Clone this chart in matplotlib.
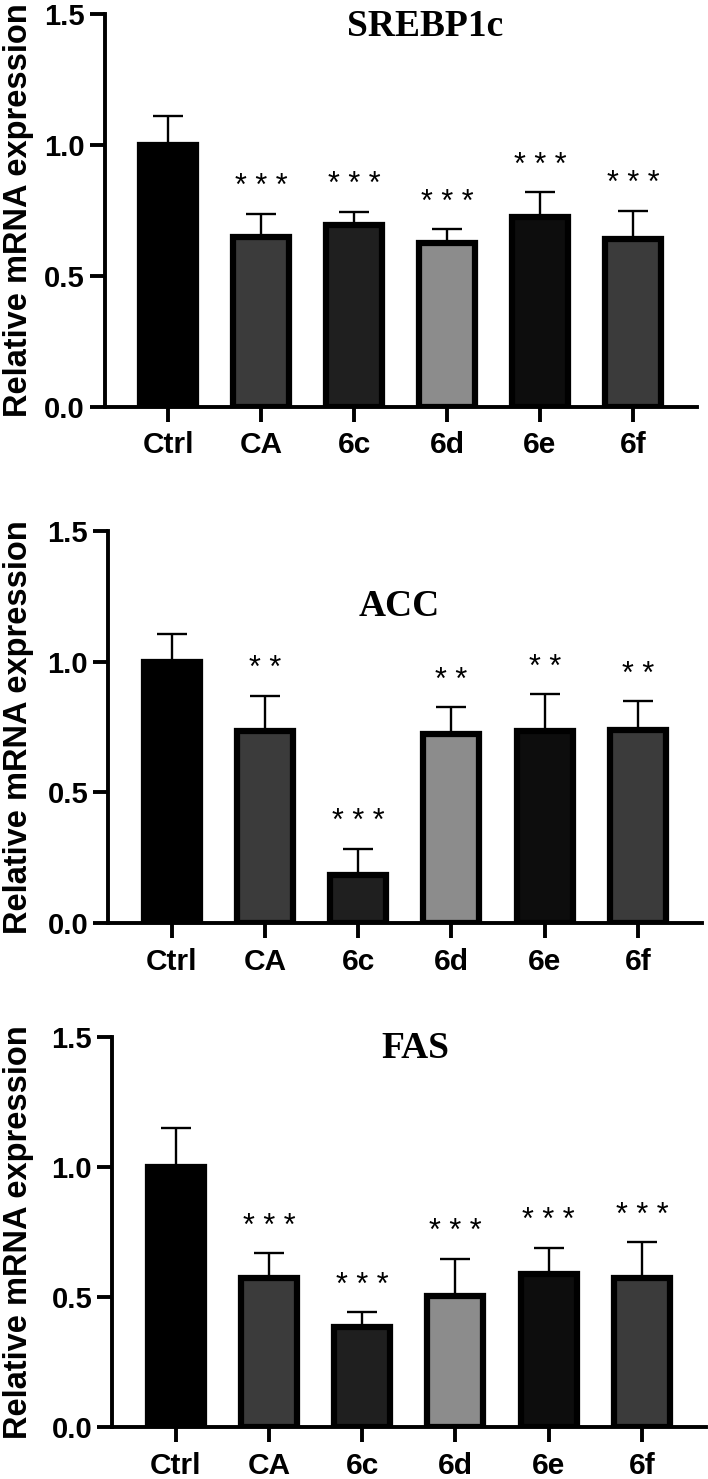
import matplotlib
matplotlib.use("Agg")
import matplotlib.pyplot as plt
import numpy as np

categories = ["Ctrl", "CA", "6c", "6d", "6e", "6f"]
bar_colors = ["#000000", "#3b3b3b", "#1f1f1f", "#8c8c8c", "#0d0d0d", "#3b3b3b"]

titles = ["SREBP1c", "ACC", "FAS"]

srebp_mean = [1.00, 0.65, 0.695, 0.625, 0.725, 0.64]
srebp_err = [0.11, 0.088, 0.05, 0.053, 0.095, 0.11]
srebp_sig = ["", "***", "***", "***", "***", "***"]

acc_mean = [1.00, 0.735, 0.185, 0.725, 0.735, 0.74]
acc_err = [0.105, 0.135, 0.10, 0.10, 0.14, 0.11]
acc_sig = ["", "**", "***", "**", "**", "**"]

fas_mean = [1.00, 0.575, 0.385, 0.505, 0.59, 0.575]
fas_err = [0.148, 0.093, 0.058, 0.143, 0.10, 0.135]
fas_sig = ["", "***", "***", "***", "***", "***"]

yticks = [0.0, 0.5, 1.0, 1.5]
ylabel = "Relative mRNA expression"

W, H = 708, 1479
fig = plt.figure(figsize=(W / 100, H / 100), dpi=100)

# axes boxes in pixels: left, top, bottom, width
boxes = [(105, 14, 407, 592), (108.3, 530.7, 923.3, 594), (112.3, 1036.7, 1427.3, 594)]
title_pos = [(0.54, 0.967), (0.49, 0.806), (0.51, 0.97)]

panels = [(srebp_mean, srebp_err, srebp_sig), (acc_mean, acc_err, acc_sig), (fas_mean, fas_err, fas_sig)]

sans = ["Liberation Sans", "DejaVu Sans"]
serif = ["Liberation Serif", "DejaVu Serif"]

for i, ((mean, err, sig), (l, t, b, w)) in enumerate(zip(panels, boxes)):
    ax = fig.add_axes([l / W, (H - b) / H, w / W, (b - t) / H])
    x = np.arange(len(categories))
    ax.bar(x, mean, width=0.6, color=bar_colors, edgecolor="black", linewidth=4.5, zorder=2)
    lower = np.zeros(len(mean))
    ax.errorbar(x, mean, yerr=[lower, err], fmt="none", ecolor="black", elinewidth=1.7,
                capsize=10.5, capthick=1.7, zorder=3)
    for xi, m, e, s in zip(x, mean, err, sig):
        if s:
            ax.text(xi, m + e + 0.07, " ".join(s), ha="center", va="baseline",
                    fontsize=22, family=sans, color="black")
    ax.set_xlim(-0.68, 5.69)
    ax.set_ylim(0, 1.5)
    ax.set_yticks(yticks)
    ax.set_yticklabels([f"{v:.1f}" for v in yticks], fontsize=21, fontweight="bold", family=sans)
    ax.set_xticks(x)
    ax.set_xticklabels(categories, fontsize=21.5, fontweight="bold", family=sans)
    for sp in ["top", "right"]:
        ax.spines[sp].set_visible(False)
    for sp in ["left", "bottom"]:
        ax.spines[sp].set_linewidth(2.8)
    ax.tick_params(axis="both", width=2.8, length=10.5, pad=4)
    ax.tick_params(axis="x", pad=7)
    ax.set_ylabel(ylabel, fontsize=23.5, fontweight="bold", family=sans)
    ax.yaxis.set_label_coords((34 - l) / w, 0.5)
    ax.text(title_pos[i][0], title_pos[i][1], titles[i], transform=ax.transAxes,
            ha="center", va="center", fontsize=27, fontweight="bold", family=serif)

fig.savefig("out.png", dpi=100)
